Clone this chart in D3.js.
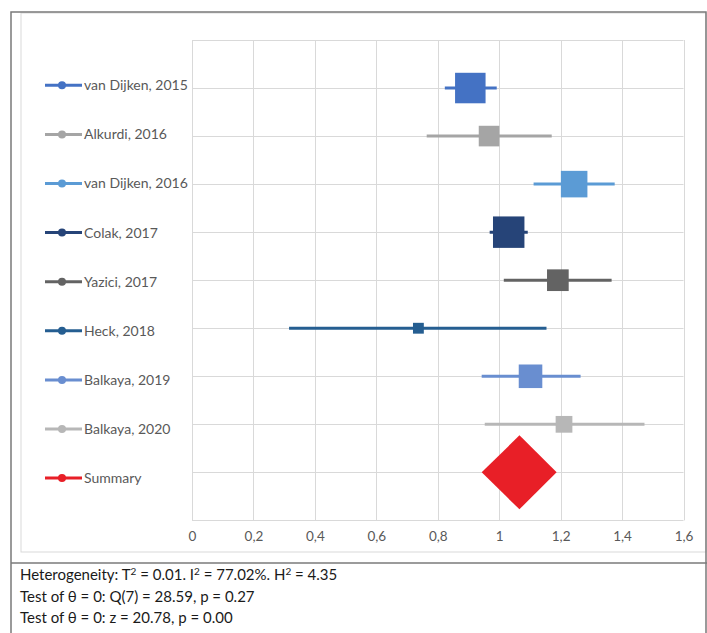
<!DOCTYPE html>
<html>
<head>
<meta charset="utf-8">
<script src="https://cdn.jsdelivr.net/npm/d3@7/dist/d3.min.js"></script>
<style>
  html, body { margin: 0; padding: 0; background: #ffffff; }
  svg { display: block; }
  text { font-family: Lato, "Open Sans", "DejaVu Sans", sans-serif; }
</style>
</head>
<body>
<svg id="chart" width="707" height="633"></svg>
<script>
// Study-level effect sizes with 95% confidence limits
const studies  = ["van Dijken, 2015", "Alkurdi, 2016", "van Dijken, 2016", "Colak, 2017",
                  "Yazici, 2017", "Heck, 2018", "Balkaya, 2019", "Balkaya, 2020"];
const estimate = [0.906, 0.967, 1.244, 1.031, 1.191, 0.737, 1.102, 1.211];
const lower    = [0.823, 0.764, 1.112, 0.969, 1.015, 0.316, 0.943, 0.953];
const upper    = [0.992, 1.171, 1.376, 1.093, 1.366, 1.154, 1.265, 1.473];
const weights  = [20.6, 9.4, 15.6, 21.9, 10.4, 2.6, 12.3, 6.2];   // % weight
const colors   = ["#4472C4", "#A5A5A5", "#5B9BD5", "#264478",
                  "#636363", "#255E91", "#698ED0", "#B7B7B7"];

// Pooled estimate
const summaryLabel = "Summary";
const summaryEst = 1.066, summaryLow = 0.943, summaryHigh = 1.187;
const summaryColor = "#E81F27";

// Axis ticks and footer statistics
const xTicks = [0, 0.2, 0.4, 0.6, 0.8, 1, 1.2, 1.4, 1.6];
const footerLines = [
  [["Heterogeneity: T"], ["2", true], [" = 0.01. I"], ["2", true], [" = 77.02%. H"], ["2", true], [" = 4.35"]],
  [["Test of \u03B8 = 0: Q(7) = 28.59, p = 0.27"]],
  [["Test of \u03B8 = 0: z = 20.78, p = 0.00"]]
];

const svg = d3.select("#chart");

// Outer frame and chart area
svg.append("rect").attr("x", 21).attr("y", 13).attr("width", 685).attr("height", 539)
  .attr("fill", "#fff").attr("stroke", "#d9d9d9").attr("stroke-width", 1);
svg.append("path").attr("d", "M11,640 V12 H706 V640")
  .attr("fill", "none").attr("stroke", "#7a7a7a").attr("stroke-width", 1.5);
svg.append("line").attr("x1", 11).attr("x2", 707).attr("y1", 563).attr("y2", 563)
  .attr("stroke", "#7a7a7a").attr("stroke-width", 1.5);

// Plot area scales
const x = d3.scaleLinear().domain([0, 1.6]).range([192, 683.5]);
const y = d3.scaleLinear().domain([0, 10]).range([520.4, 40]);
const rowY = i => y(9 - i);
const side = d3.scaleSqrt().domain([0, 100]).range([0, 67.2]);

// Grid
const grid = svg.append("g").attr("stroke", "#d9d9d9").attr("stroke-width", 1);
grid.selectAll("line.v").data(xTicks).join("line").attr("class", "v")
  .attr("x1", d => Math.round(x(d)) + 0.5).attr("x2", d => Math.round(x(d)) + 0.5)
  .attr("y1", y(10)).attr("y2", y(0));
grid.selectAll("line.h").data(d3.range(0, 11)).join("line").attr("class", "h")
  .attr("x1", x(0)).attr("x2", x(1.6))
  .attr("y1", d => Math.round(y(d)) + 0.5).attr("y2", d => Math.round(y(d)) + 0.5);

// X axis labels
const xAxis = d3.axisBottom(x).tickValues(xTicks).tickSize(0).tickPadding(0)
  .tickFormat(d => d3.format("~g")(d).replace(".", ","));
const ax = svg.append("g").attr("transform", `translate(0,${y(0) + 11})`).call(xAxis);
ax.select(".domain").remove();
ax.selectAll("text").attr("fill", "#595959").attr("font-size", 13.5)
  .attr("font-family", "Lato, 'Open Sans', sans-serif");

// Confidence intervals and weighted squares
const rows = svg.append("g");
studies.forEach((s, i) => {
  rows.append("line")
    .attr("x1", x(lower[i])).attr("x2", x(upper[i]))
    .attr("y1", rowY(i)).attr("y2", rowY(i))
    .attr("stroke", colors[i]).attr("stroke-width", 3);
  const w = side(weights[i]);
  rows.append("rect")
    .attr("x", x(estimate[i]) - w / 2).attr("y", rowY(i) - w / 2)
    .attr("width", w).attr("height", w)
    .attr("fill", colors[i]);
});

// Pooled diamond
const sy = y(1), half = 37;
svg.append("path")
  .attr("d", `M${x(summaryLow)},${sy} L${x(summaryEst)},${sy - half} L${x(summaryHigh)},${sy} L${x(summaryEst)},${sy + half} Z`)
  .attr("fill", summaryColor);

// Legend
const legendNames = studies.concat([summaryLabel]);
const legendColors = colors.concat([summaryColor]);
const lg = svg.append("g").selectAll("g").data(legendNames).join("g")
  .attr("transform", (d, i) => `translate(0,${85.3 + i * 49.1})`);
lg.append("line").attr("x1", 45).attr("x2", 82).attr("y1", 0).attr("y2", 0)
  .attr("stroke", (d, i) => legendColors[i]).attr("stroke-width", 3);
lg.append("circle").attr("cx", 62).attr("cy", 0).attr("r", 4)
  .attr("fill", (d, i) => legendColors[i]);
lg.append("text").attr("x", 84).attr("y", 0).attr("dy", "0.35em")
  .attr("font-size", 14).attr("fill", "#595959").text(d => d);

// Footer statistics
const ft = svg.append("g");
footerLines.forEach((parts, i) => {
  const t = ft.append("text").attr("x", 20).attr("y", 580 + i * 21.5)
    .attr("font-size", 15).attr("fill", "#1a1a1a");
  parts.forEach(p => {
    const ts = t.append("tspan").text(p[0]);
    if (p[1]) ts.attr("font-size", 10).attr("baseline-shift", "5");
  });
});
</script>
</body>
</html>
